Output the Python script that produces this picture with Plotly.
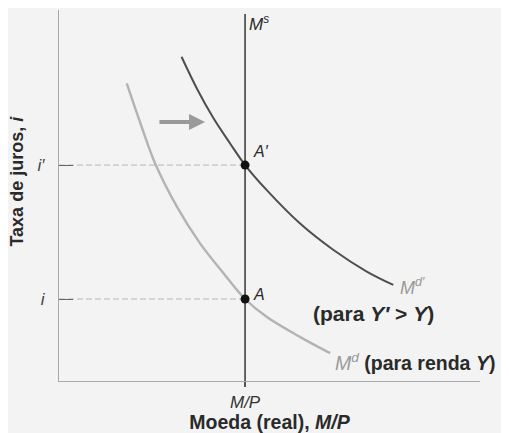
import plotly.graph_objects as go

# ---- data (chart units) ----
money_supply = 4.42          # M/P
rate_low = 2.21              # i
rate_high = 5.82             # i'
md_high_x = [2.91, 3.29, 3.67, 4.06, 4.42, 4.93, 5.72, 6.52, 7.31, 7.94]
md_high_y = [8.74, 7.85, 7.08, 6.41, 5.82, 5.15, 4.25, 3.53, 2.95, 2.59]
md_low_x = [1.61, 1.96, 2.30, 2.80, 3.35, 3.94, 4.42, 4.93, 5.72, 6.44]
md_low_y = [8.02, 6.86, 5.82, 4.70, 3.71, 2.86, 2.21, 1.73, 1.19, 0.75]
ms_top = 9.89
y_ticks = [rate_low, rate_high]
y_ticktext = ["<i>i</i>", "<i>i′</i>"]
x_ticks = [money_supply]
x_ticktext = ["<i>M/P</i>"]

FONT = "Liberation Sans, Arial, sans-serif"
fig = go.Figure()

# dashed guide lines
for r in (rate_high, rate_low):
    fig.add_trace(go.Scatter(x=[0, money_supply], y=[r, r], mode="lines",
                             line=dict(color="#b5b5b5", width=1, dash="6px,3px"),
                             hoverinfo="skip", showlegend=False))

# money demand curves
fig.add_trace(go.Scatter(x=md_low_x, y=md_low_y, mode="lines", line_shape="spline",
                         line=dict(color="#b3b3b3", width=2.4), showlegend=False))
fig.add_trace(go.Scatter(x=md_high_x, y=md_high_y, mode="lines", line_shape="spline",
                         line=dict(color="#4e4e4e", width=2), showlegend=False))

# money supply vertical line
fig.add_trace(go.Scatter(x=[money_supply, money_supply], y=[0, ms_top], mode="lines",
                         line=dict(color="#555555", width=1.8), showlegend=False))

# equilibrium points
fig.add_trace(go.Scatter(x=[money_supply, money_supply], y=[rate_high, rate_low],
                         mode="markers", marker=dict(color="#111111", size=9),
                         cliponaxis=False, showlegend=False))

# shift arrow
fig.add_annotation(x=3.47, y=6.98, ax=2.35, ay=6.98, xref="x", yref="y",
                   axref="x", ayref="y", text="", showarrow=True,
                   arrowhead=2, arrowsize=0.8, arrowwidth=4, arrowcolor="#9a9a9a")

def label(x, y, text, color="#2a2a2a", size=15, anchor="left"):
    fig.add_annotation(x=x, y=y, xref="x", yref="y", text=text, showarrow=False,
                       xanchor=anchor, yanchor="middle",
                       font=dict(family=FONT, size=size, color=color))

label(4.47, 9.66, "<i>M<sup>s</sup></i>", size=17)
label(4.56, 6.18, "<i>A′</i>", size=16)
label(4.56, 2.34, "<i>A</i>", size=16)
label(8.06, 2.54, "<i>M<sup>d′</sup></i>", color="#9a9a9a", size=18)
label(5.98, 1.83, "<b>(para <i>Y′</i> &gt; <i>Y</i>)</b>", size=21)
label(6.52, 0.51, "<span style='color:#9a9a9a'><i>M<sup>d</sup></i></span> <b>(para renda <i>Y</i>)</b>", size=19.5)

# y title
fig.add_annotation(x=-0.10, y=5.4, xref="paper", yref="y", text="<b>Taxa de juros, <i>i</i></b>",
                   textangle=-90, showarrow=False, xanchor="center", yanchor="middle",
                   font=dict(family=FONT, size=18, color="#2a2a2a"))

fig.update_layout(
    width=501, height=425,
    margin=dict(l=51, r=29, t=2, b=52),
    paper_bgcolor="#f3f3f3", plot_bgcolor="#f3f3f3",
    font=dict(family=FONT, color="#2a2a2a"),
    xaxis=dict(range=[0, 10], showgrid=False, zeroline=False, showline=True,
               linecolor="#a8a8a8", linewidth=1.2, tickvals=x_ticks, ticktext=x_ticktext,
               ticks="outside", ticklen=5, tickcolor="#555555", tickwidth=1.6,
               tickfont=dict(size=17, color="#333333"),
               title=dict(text="<b>Moeda (real), <i>M/P</i></b>", standoff=2,
                          font=dict(size=19.5, color="#2a2a2a"))),
    yaxis=dict(range=[0, 10], showgrid=False, zeroline=False, showline=True,
               linecolor="#a8a8a8", linewidth=1.2, tickvals=y_ticks, ticktext=y_ticktext,
               ticks="inside", ticklen=14, tickcolor="#666666", tickwidth=1.2,
               ticklabelstandoff=10, tickfont=dict(size=17, color="#444444")),
)

fig.write_html("out.html")
